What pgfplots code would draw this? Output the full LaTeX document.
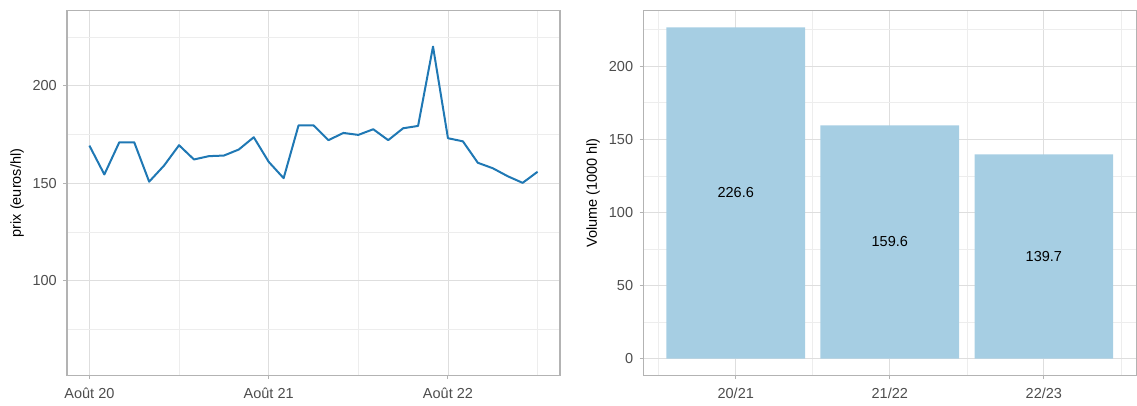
\documentclass[border=0pt]{standalone}
\usepackage{fontspec}
\setmainfont{Liberation Sans}
\usepackage{pgfplots}
\pgfplotsset{compat=1.18}
\definecolor{gridmaj}{HTML}{DEDEDE}
\definecolor{gridmin}{HTML}{EDEDED}
\definecolor{bordc}{HTML}{B3B3B3}
\definecolor{ticklab}{HTML}{4D4D4D}
\definecolor{linec}{HTML}{1F78B4}
\definecolor{barc}{HTML}{A6CEE3}
\pgfplotsset{
  myaxis/.style={
    scale only axis, width=493pt, height=364.6pt,
    axis line style={bordc, line width=1.4pt},
    major tick style={bordc, line width=1pt},
    tick align=outside, major tick length=3.7pt, minor tick length=0pt,
    xtick pos=bottom, ytick pos=left,
    grid=both,
    major grid style={gridmaj, line width=0.9pt},
    minor grid style={gridmin, line width=0.6pt},
    tick label style={font=\fontsize{14.5}{17}\selectfont, text=ticklab},
    xticklabel style={yshift=-5pt},
    yticklabel style={xshift=-3pt},
    label style={font=\fontsize{14.5}{17}\selectfont, text=black},
    /pgf/number format/assume math mode=true,
    anchor=south west,
  }
}
\begin{document}
\begin{tikzpicture}
\useasboundingbox (0,0) rectangle (1137pt,405pt);
\begin{axis}[myaxis, at={(67pt,29.7pt)},
  xmin=-1.5, xmax=31.5, ymin=51.5, ymax=238.5,
  xtick={0,12,24}, xticklabels={Août 20, Août 21, Août 22},
  minor xtick={6,18,30},
  ytick={100,150,200}, minor ytick={75,125,175,225},
  ylabel={prix (euros/hl)},
  ylabel style={at={(axis description cs:-0.1014,0.5)}, rotate=0, anchor=center},
]
\addplot[linec, line width=2pt, line join=round] coordinates {
(0,169.3) (1,154.5) (2,171.0) (3,171.0) (4,150.8) (5,159.1) (6,169.5) (7,162.2)
(8,163.9) (9,164.2) (10,167.3) (11,173.6) (12,161.0) (13,152.6) (14,179.7) (15,179.7)
(16,172.1) (17,175.8) (18,174.8) (19,177.7) (20,172.1) (21,178.2) (22,179.4) (23,220.1)
(24,173.1) (25,171.5) (26,160.5) (27,157.7) (28,153.6) (29,150.2) (30,155.9)};
\end{axis}
\begin{axis}[myaxis, at={(643.3pt,29.7pt)},
  xmin=0.4, xmax=3.6, ymin=-11.33, ymax=237.93,
  xtick={1,2,3}, xticklabels={20/21, 21/22, 22/23},
  minor xtick={0.5,1.5,2.5,3.5},
  ytick={0,50,100,150,200}, minor ytick={25,75,125,175,225},
  ylabel={Volume (1000 hl)},
  ylabel style={at={(axis description cs:-0.102,0.5)}, rotate=0, anchor=center},
]
\addplot[ybar, bar width=0.9, fill=barc, draw=none] coordinates {(1,226.6) (2,159.6) (3,139.7)};
\addplot[only marks, mark=none, nodes near coords, point meta=explicit symbolic,
  nodes near coords align=center,
  every node near coord/.style={font=\fontsize{14.5}{17}\selectfont, text=black, anchor=center}]
  coordinates {(1,113.3) [226.6] (2,79.8) [159.6] (3,69.85) [139.7]};
\end{axis}
\end{tikzpicture}
\end{document}
